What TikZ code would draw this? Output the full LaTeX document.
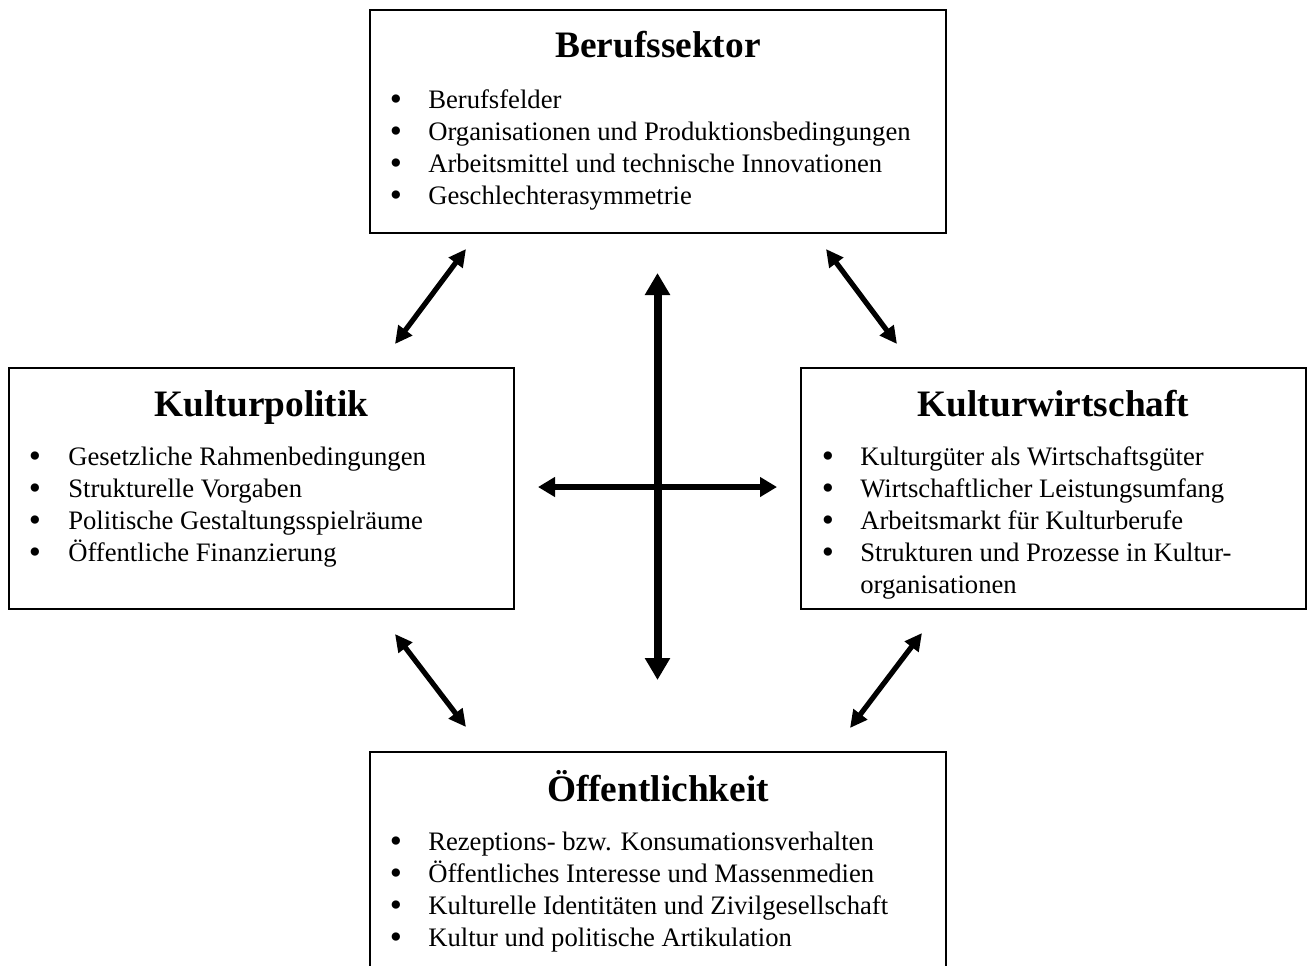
\documentclass[tikz,border=0pt]{standalone}
\usepackage{fontspec}
\setmainfont{Liberation Serif}
\usetikzlibrary{arrows.meta}
\tikzset{
  box/.style={draw, line width=1.5pt, inner sep=0pt},
  ttl/.style={anchor=base, inner sep=0pt, font=\bfseries\fontsize{28}{32}\selectfont},
  itm/.style={anchor=base west, inner sep=0pt, font=\fontsize{20}{24}\selectfont},
  bul/.style={anchor=base, inner sep=0pt, yshift=-2pt, font=\fontsize{26}{30}\selectfont},
  bigarr/.style={line width=6pt, {Triangle[length=16.5pt,width=18pt]}-{Triangle[length=16.5pt,width=18pt]}},
  midarr/.style={line width=4.9pt, {Triangle[length=12.75pt,width=14.25pt]}-{Triangle[length=12.75pt,width=14.25pt]}},
  diagarr/.style={line width=3.9pt, {Triangle[length=13pt,width=12.5pt]}-{Triangle[length=13pt,width=12.5pt]}}
}
\begin{document}
\begin{tikzpicture}[x=0.75pt,y=-0.75pt]
\useasboundingbox (0,0) rectangle (1310,965);
\clip (0,0) rectangle (1310,965);
\fill[white] (0,0) rectangle (1310,965);
% boxes
\node[box, minimum width=576*0.75pt, minimum height=223*0.75pt] (berufbox) at (658,121.5) {};
\node[box, minimum width=505*0.75pt, minimum height=241*0.75pt] (polbox) at (261.5,488.5) {};
\node[box, minimum width=505*0.75pt, minimum height=241*0.75pt] (wirtbox) at (1053.5,488.5) {};
\node[box, minimum width=576*0.75pt, minimum height=240*0.75pt] (oeffbox) at (658,872) {};
% Berufssektor
\node[ttl] (t1) at (658,57) {Berufssektor};
\node[bul] (b11) at (396,108) {•}; \node[itm] (i11) at (428,108) {Berufsfelder};
\node[bul] (b12) at (396,140) {•}; \node[itm] (i12) at (428,140) {Organisationen und Produktionsbedingungen};
\node[bul] (b13) at (396,172) {•}; \node[itm] (i13) at (428,172) {Arbeitsmittel und technische Innovationen};
\node[bul] (b14) at (396,204) {•}; \node[itm] (i14) at (428,204) {Geschlechterasymmetrie};
% Kulturpolitik
\node[ttl] (t2) at (261.5,416) {Kulturpolitik};
\node[bul] (b21) at (35,465) {•}; \node[itm] (i21) at (68,465) {Gesetzliche Rahmenbedingungen};
\node[bul] (b22) at (35,497) {•}; \node[itm] (i22) at (68,497) {Strukturelle Vorgaben};
\node[bul] (b23) at (35,529) {•}; \node[itm] (i23) at (68,529) {Politische Gestaltungsspielräume};
\node[bul] (b24) at (35,561) {•}; \node[itm] (i24) at (68,561) {Öffentliche Finanzierung};
% Kulturwirtschaft
\node[ttl] (t3) at (1053.5,416) {Kulturwirtschaft};
\node[bul] (b31) at (828,465) {•}; \node[itm] (i31) at (860,465) {Kulturgüter als Wirtschaftsgüter};
\node[bul] (b32) at (828,497) {•}; \node[itm] (i32) at (860,497) {Wirtschaftlicher Leistungsumfang};
\node[bul] (b33) at (828,529) {•}; \node[itm] (i33) at (860,529) {Arbeitsmarkt für Kulturberufe};
\node[bul] (b34) at (828,561) {•}; \node[itm] (i34) at (860,561) {Strukturen und Prozesse in Kultur-};
\node[itm] (i35) at (860,593) {organisationen};
% Oeffentlichkeit
\node[ttl] (t4) at (658,801) {Öffentlichkeit};
\node[bul] (b41) at (396,850) {•}; \node[itm] (i41) at (428,850) {Rezeptions- bzw. Konsumationsverhalten};
\node[bul] (b42) at (396,882) {•}; \node[itm] (i42) at (428,882) {Öffentliches Interesse und Massenmedien};
\node[bul] (b43) at (396,914) {•}; \node[itm] (i43) at (428,914) {Kulturelle Identitäten und Zivilgesellschaft};
\node[bul] (b44) at (396,946) {•}; \node[itm] (i44) at (428,946) {Kultur und politische Artikulation};
% arrow end points
\coordinate (vtop) at (657.5,273);
\coordinate (vbot) at (657.5,680);
\coordinate (hl) at (538,487);
\coordinate (hr) at (777,487);
\coordinate (tl1) at (395,344);
\coordinate (tl2) at (466,249);
\coordinate (tr1) at (826,249);
\coordinate (tr2) at (897,344);
\coordinate (bl1) at (395,634);
\coordinate (bl2) at (466,727);
\coordinate (br1) at (922,633);
\coordinate (br2) at (850,728);
% arrows
\draw[bigarr] (vtop) -- (vbot);
\draw[midarr] (hl) -- (hr);
\draw[diagarr] (tl1) -- (tl2);
\draw[diagarr] (tr1) -- (tr2);
\draw[diagarr] (bl1) -- (bl2);
\draw[diagarr] (br1) -- (br2);
\end{tikzpicture}
\end{document}
